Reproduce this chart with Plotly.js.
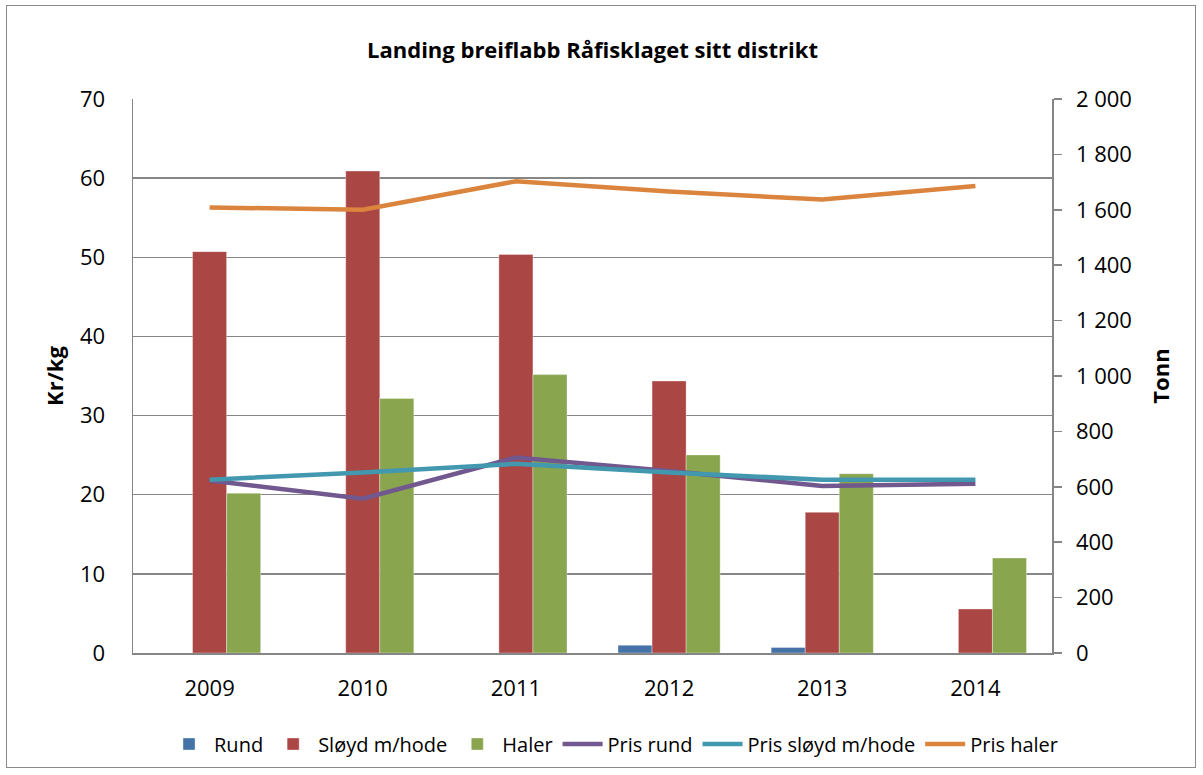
<!DOCTYPE html>
<html>
<head>
<meta charset="utf-8">
<script src="https://cdn.plot.ly/plotly-3.0.1.min.js"></script>
<style>
html,body{margin:0;padding:0;background:#fff;}
#wrap{position:relative;width:1203px;height:775px;}
#chart{width:1203px;height:775px;}
#border{position:absolute;left:6px;top:5px;width:1190px;height:763px;border:1.5px solid #8a8a8a;pointer-events:none;box-sizing:border-box;}
</style>
</head>
<body>
<div id="wrap"><div id="chart"></div><div id="border"></div></div>
<script>
// Data
const years = ["2009","2010","2011","2012","2013","2014"];
// Tonnes (right axis)
const rund = [0, 0, 0, 28, 20, 0];
const sloyd = [1449, 1740, 1439, 982, 508, 159];
const haler = [577, 919, 1005, 715, 647, 343];
// Kr/kg (left axis)
const prisRund = [21.8, 19.5, 24.7, 23.0, 21.1, 21.4];
const prisSloyd = [21.9, 22.8, 23.9, 22.8, 21.9, 21.9];
const prisHaler = [56.3, 56.0, 59.6, 58.3, 57.3, 59.0];

const colors = {rund:"#4572A7", sloyd:"#AA4643", haler:"#89A54E", prund:"#71588F", psloyd:"#4198AF", phaler:"#DB843D"};
const FONT = "Open Sans, sans-serif";
const barLine = {color:"rgba(255,255,255,0.35)", width:1};

const traces = [
  {type:"bar", name:"Rund", x:years, y:rund, yaxis:"y", marker:{color:colors.rund, line:barLine}},
  {type:"bar", name:"Sløyd m/hode", x:years, y:sloyd, yaxis:"y", marker:{color:colors.sloyd, line:barLine}},
  {type:"bar", name:"Haler", x:years, y:haler, yaxis:"y", marker:{color:colors.haler, line:barLine}},
  {type:"scatter", mode:"lines", name:"Pris rund", x:years, y:prisRund, yaxis:"y2", line:{color:colors.prund, width:4.5}},
  {type:"scatter", mode:"lines", name:"Pris sløyd m/hode", x:years, y:prisSloyd, yaxis:"y2", line:{color:colors.psloyd, width:4.5}},
  {type:"scatter", mode:"lines", name:"Pris haler", x:years, y:prisHaler, yaxis:"y2", line:{color:colors.phaler, width:4.5}}
];

const layout = {
  width:1203, height:775,
  paper_bgcolor:"#fff", plot_bgcolor:"#fff",
  font:{family:FONT, size:22, color:"#000"},
  separators:", ",
  margin:{l:133, r:151, t:99, b:122},
  title:{text:"<b>Landing breiflabb Råfisklaget sitt distrikt</b>", font:{family:FONT, size:22, color:"#000"}, xref:"paper", x:0.5, xanchor:"center", y:0.935, yanchor:"middle"},
  barmode:"group", bargap:0.333, bargroupgap:0,
  xaxis:{type:"category", showline:true, linecolor:"#868686", linewidth:1.5, ticks:"", tickfont:{size:22}, ticklabelstandoff:15, showgrid:false, zeroline:false},
  yaxis:{side:"right", range:[0,2000], dtick:200, tickformat:",.0f", showgrid:false, zeroline:false,
         showline:true, linecolor:"#868686", linewidth:1.5, ticks:"outside", ticklen:8, tickcolor:"#868686", tickwidth:1.5,
         tickfont:{size:22}, ticklabelstandoff:10,
         title:{text:"<b>Tonn</b>", font:{size:22}, standoff:22}},
  yaxis2:{side:"left", overlaying:"y", range:[0,70], dtick:10, showgrid:true, gridcolor:"#868686", gridwidth:1.5, zeroline:false,
          showline:true, linecolor:"#868686", linewidth:1.5, ticks:"", tickfont:{size:22}, ticklabelstandoff:22,
          title:{text:"<b>Kr/kg</b>", font:{size:22}, standoff:10}},
  legend:{orientation:"h", xref:"container", yref:"container", x:0.51, xanchor:"center", y:0.04, yanchor:"middle",
          font:{size:20}, traceorder:"normal", itemwidth:40},
  showlegend:true
};

Plotly.newPlot("chart", traces, layout, {displayModeBar:false, staticPlot:true});
</script>
</body>
</html>
